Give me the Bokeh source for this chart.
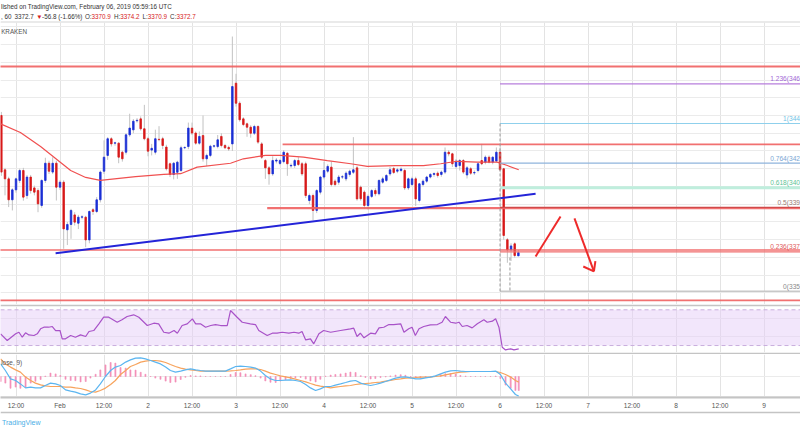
from bokeh.plotting import figure
from bokeh.layouts import column
from bokeh.models import Range1d, FixedTicker, Span
from bokeh.core.properties import value
from bokeh.embed import file_html
from bokeh.resources import INLINE

FONT = "Liberation Sans"
W = 800

# ---------------- data (hours from 1 Feb 2019 00:00 UTC, XBT/USD hourly) ----------------
hours = list(range(-16, 126))
opens = [3450.0, 3419.4, 3414.3, 3402.5, 3408.1, 3413.4, 3419.0, 3404.9, 3415.3, 3409.2,
         3407.7, 3399.3, 3413.4, 3423.1, 3418.1, 3423.1, 3409.6, 3412.4, 3385.6, 3388.6,
         3394.0, 3389.3, 3392.7, 3392.7, 3379.9, 3396.9, 3395.9, 3402.5, 3418.6, 3427.5,
         3436.9, 3434.4, 3434.4, 3429.3, 3429.3, 3439.1, 3441.9, 3447.0, 3448.1, 3442.5,
         3436.9, 3430.5, 3429.3, 3436.6, 3436.9, 3432.2, 3422.8, 3416.8, 3418.0, 3419.0,
         3431.8, 3432.5, 3442.9, 3440.1, 3434.4, 3438.7, 3425.6, 3427.5, 3432.7, 3432.5,
         3438.2, 3433.1, 3432.0, 3434.0, 3468.2, 3456.9, 3448.1, 3445.3, 3443.4, 3440.0,
         3443.8, 3434.0, 3424.6, 3420.5, 3417.1, 3424.3, 3423.0, 3424.0, 3428.7, 3421.6,
         3421.8, 3424.6, 3422.8, 3422.8, 3402.1, 3404.9, 3396.5, 3406.8, 3415.3, 3418.6,
         3420.9, 3413.0, 3412.4, 3415.3, 3414.3, 3416.8, 3418.0, 3420.5, 3409.6, 3406.8,
         3399.3, 3404.4, 3407.7, 3405.9, 3412.4, 3413.4, 3417.1, 3420.1, 3418.6, 3419.0,
         3419.0, 3409.2, 3411.1, 3414.3, 3402.1, 3411.1, 3413.0, 3415.3, 3416.8, 3417.5,
         3416.8, 3418.1, 3429.3, 3428.4, 3421.3, 3421.8, 3424.6, 3416.5, 3420.0, 3417.6,
         3419.0, 3424.6, 3423.7, 3426.5, 3423.7, 3424.3, 3429.3, 3420.0, 3380.0, 3374.3,
         3377.7, 3370.9]
highs = [3452.0, 3420.5, 3415.5, 3409.0, 3415.0, 3420.0, 3420.5, 3416.5, 3416.5, 3410.5,
         3409.0, 3414.0, 3426.2, 3424.5, 3426.5, 3424.5, 3413.5, 3413.5, 3390.0, 3397.4,
         3395.5, 3394.0, 3393.8, 3393.5, 3396.5, 3397.8, 3404.0, 3419.0, 3436.0, 3437.8,
         3437.8, 3435.2, 3435.0, 3430.2, 3440.0, 3451.0, 3448.0, 3448.5, 3449.5, 3456.0,
         3438.0, 3434.0, 3442.0, 3444.0, 3438.0, 3433.5, 3423.5, 3423.8, 3424.5, 3433.0,
         3432.6, 3446.0, 3446.0, 3441.0, 3441.0, 3450.0, 3428.5, 3433.5, 3433.5, 3439.0,
         3440.0, 3434.0, 3433.0, 3494.5, 3473.5, 3458.0, 3449.0, 3446.0, 3444.5, 3444.8,
         3444.5, 3435.0, 3425.5, 3421.5, 3427.0, 3426.0, 3425.5, 3430.5, 3429.5, 3423.0,
         3425.5, 3426.5, 3423.8, 3424.0, 3406.0, 3406.0, 3408.5, 3416.0, 3424.0, 3422.5,
         3424.0, 3414.0, 3416.5, 3416.5, 3418.5, 3419.5, 3437.8, 3421.5, 3410.5, 3407.8,
         3405.5, 3408.5, 3409.0, 3414.0, 3415.5, 3417.0, 3421.0, 3421.0, 3420.5, 3420.8,
         3420.0, 3415.0, 3415.5, 3415.5, 3412.0, 3414.0, 3416.0, 3417.5, 3418.0, 3418.5,
         3419.0, 3432.0, 3430.5, 3429.0, 3425.5, 3425.5, 3425.5, 3421.5, 3421.0, 3419.0,
         3423.5, 3434.0, 3427.5, 3427.5, 3427.0, 3432.0, 3432.0, 3420.5, 3381.0, 3378.0,
         3378.5, 3374.2]
lows = [3416.0, 3405.0, 3398.4, 3396.5, 3406.5, 3412.0, 3402.0, 3403.0, 3406.0, 3405.0,
        3395.5, 3398.0, 3412.0, 3417.0, 3417.0, 3402.1, 3408.0, 3374.9, 3377.0, 3380.5,
        3388.0, 3386.0, 3391.5, 3375.8, 3378.0, 3394.0, 3395.0, 3401.0, 3417.0, 3425.0,
        3432.5, 3433.0, 3423.1, 3424.0, 3428.0, 3438.0, 3440.0, 3446.0, 3441.5, 3436.0,
        3427.0, 3427.5, 3428.0, 3435.5, 3431.0, 3419.0, 3415.3, 3414.0, 3414.3, 3418.0,
        3431.0, 3431.0, 3439.0, 3433.5, 3433.5, 3424.0, 3421.5, 3426.5, 3431.8, 3431.5,
        3432.0, 3431.0, 3430.0, 3430.0, 3455.0, 3446.5, 3444.0, 3438.0, 3437.5, 3439.0,
        3434.0, 3425.5, 3414.3, 3411.0, 3416.0, 3423.0, 3422.0, 3423.0, 3416.0, 3420.5,
        3420.5, 3421.5, 3416.0, 3403.5, 3400.0, 3391.0, 3395.0, 3405.5, 3414.0, 3417.5,
        3410.0, 3410.0, 3411.0, 3414.2, 3413.0, 3415.5, 3417.0, 3402.0, 3402.0, 3397.4,
        3397.0, 3403.5, 3404.5, 3405.0, 3411.5, 3412.5, 3416.0, 3417.0, 3417.5, 3418.0,
        3408.0, 3408.0, 3410.0, 3399.0, 3401.0, 3410.0, 3412.0, 3414.5, 3415.5, 3415.0,
        3415.5, 3417.0, 3427.0, 3421.0, 3420.0, 3419.0, 3417.0, 3414.5, 3416.5, 3416.5,
        3418.0, 3422.0, 3422.5, 3423.0, 3422.5, 3423.5, 3418.5, 3380.0, 3367.0, 3368.0,
        3370.0, 3370.9]
closes = [3418.1, 3414.3, 3402.5, 3408.1, 3414.3, 3419.0, 3404.0, 3415.3, 3407.7, 3406.8,
          3400.2, 3413.4, 3423.1, 3418.6, 3423.1, 3409.6, 3412.4, 3386.1, 3388.6, 3396.5,
          3389.9, 3392.7, 3392.9, 3379.9, 3395.9, 3395.9, 3402.5, 3418.1, 3426.5, 3436.9,
          3434.0, 3434.6, 3426.5, 3425.6, 3439.1, 3442.9, 3446.8, 3447.3, 3442.5, 3436.9,
          3429.9, 3431.5, 3436.9, 3436.4, 3433.1, 3420.0, 3416.8, 3423.1, 3423.7, 3431.8,
          3432.0, 3442.9, 3440.1, 3434.4, 3438.2, 3425.6, 3427.5, 3432.7, 3432.9, 3436.3,
          3433.1, 3431.8, 3431.2, 3466.3, 3456.9, 3447.6, 3444.9, 3443.4, 3440.0, 3443.8,
          3435.0, 3426.5, 3420.5, 3417.1, 3424.6, 3424.9, 3424.6, 3429.3, 3422.8, 3421.9,
          3424.6, 3422.4, 3417.1, 3404.9, 3404.9, 3396.5, 3407.7, 3415.3, 3419.0, 3421.3,
          3411.1, 3411.1, 3415.3, 3415.5, 3417.5, 3418.6, 3419.4, 3403.0, 3403.1, 3399.3,
          3404.4, 3407.7, 3405.9, 3413.4, 3414.3, 3416.2, 3419.4, 3417.9, 3419.4, 3419.8,
          3409.2, 3414.3, 3414.3, 3403.0, 3411.5, 3413.0, 3415.3, 3416.8, 3417.3, 3416.2,
          3418.1, 3429.3, 3428.4, 3422.8, 3424.3, 3424.6, 3418.1, 3420.5, 3417.5, 3417.9,
          3422.8, 3422.8, 3426.5, 3423.7, 3426.5, 3429.3, 3419.4, 3382.4, 3374.3, 3376.5,
          3371.1, 3372.7]

ma_hours = [-16.2, -10.8, -5.3, -1.2, 2.9, 7.0, 11.0, 20.6, 28.3, 32.9, 37.4, 46.5, 50.0, 56.0,
            60.1, 66.4, 72.9, 79.3, 83.8, 91.5, 99.1, 103.8, 108.3, 113.8, 119.2, 122.0, 125.1]
ma_values = [3445.3, 3440.4, 3432.5, 3425.8, 3419.0, 3415.1, 3413.4, 3415.6, 3416.8, 3417.2,
             3420.9, 3423.1, 3425.6, 3427.5, 3427.5, 3426.5, 3424.6, 3422.8, 3421.3, 3421.8,
             3421.8, 3422.8, 3424.2, 3423.7, 3423.7, 3421.8, 3419.4]

rsi_hours = [-16.2, -14.4, -12.1, -11.2, -10.3, -9.4, -8.5, -7.1, -6.2, -5.3, -4.4, -3.1, -2.1,
             -1.2, 0.0, 0.6, 1.5, 2.9, 4.2, 5.6, 7.0, 7.9, 9.2, 10.6, 11.9, 13.3, 15.6, 16.9,
             18.3, 20.1, 21.5, 23.8, 25.6, 26.9, 28.3, 29.7, 31.1, 32.0, 33.3, 34.7, 36.1, 37.0,
             38.3, 39.7, 41.1, 42.4, 43.8, 45.6, 46.5, 48.3, 49.7, 51.9, 53.3, 54.2, 56.5, 57.9,
             59.2, 60.6, 62.4, 63.8, 65.1, 66.0, 67.0, 68.3, 69.2, 70.6, 71.9, 73.8, 76.5, 79.2,
             80.1, 81.0, 81.9, 82.9, 84.7, 86.0, 87.0, 88.3, 89.7, 91.0, 92.9, 93.8, 95.1, 96.0,
             96.9, 97.9, 99.2, 101.0, 102.9, 104.2, 105.1, 106.5, 107.9, 108.8, 109.7, 111.0,
             112.4, 113.8, 115.6, 116.5, 117.9, 118.8, 119.7, 120.6, 121.5, 122.9, 123.8, 125.1]
rsi_values = [43.1, 35.6, 43.1, 44.9, 39.3, 44.2, 41.9, 41.2, 43.1, 48.7, 50.5, 50.5, 51.3,
              46.8, 46.8, 37.5, 37.5, 41.2, 39.3, 41.9, 40.1, 45.7, 46.8, 54.3, 61.7, 61.7, 56.1,
              58.8, 62.5, 64.4, 61.7, 52.4, 55.0, 54.3, 44.9, 43.8, 46.8, 43.8, 52.4, 54.3, 59.9,
              54.3, 54.3, 50.5, 52.4, 53.5, 52.4, 52.4, 69.2, 61.7, 56.1, 54.3, 53.5, 46.8, 41.2,
              43.8, 43.8, 44.9, 43.8, 44.9, 43.8, 45.7, 36.3, 37.5, 31.9, 43.1, 46.8, 44.9, 46.8,
              48.7, 49.4, 40.1, 43.8, 38.6, 43.8, 43.1, 49.8, 50.5, 53.5, 53.5, 54.3, 44.9, 48.7,
              50.5, 41.2, 48.7, 51.3, 53.2, 53.5, 56.1, 62.5, 56.1, 55.0, 56.1, 51.3, 52.4, 49.8,
              54.3, 58.8, 56.1, 57.3, 59.9, 50.5, 28.1, 25.1, 26.3, 25.1, 26.3]

macd_hours = [-16.2, -14.9, -13.5, -12.1, -10.8, -9.4, -8.0, -6.7, -5.3, -4.0, -2.6, -1.2, 0.1,
              1.5, 2.9, 4.2, 5.6, 7.0, 8.3, 9.7, 11.0, 12.4, 13.8, 15.1, 16.5, 17.9, 19.2, 20.6,
              22.0, 23.3, 24.7, 26.0, 27.4, 28.8, 30.1, 31.5, 32.9, 34.2, 35.6, 37.0, 38.3, 39.7,
              41.0, 42.4, 43.8, 45.1, 46.5, 47.9, 49.2, 50.6, 52.0, 53.3, 54.7, 56.0, 57.4, 58.8,
              60.1, 61.5, 62.9, 64.2, 65.6, 67.0, 68.3, 69.7, 71.0, 72.4, 73.8, 75.1, 76.5, 77.9,
              79.2, 80.6, 82.0, 83.3, 84.7, 86.0, 87.4, 88.8, 90.1, 91.5, 92.9, 94.2, 95.6, 97.0,
              98.3, 99.7, 101.0, 102.4, 103.8, 105.1, 106.5, 107.9, 109.2, 110.6, 112.0, 113.3,
              114.7, 116.0, 117.4, 118.8, 120.1, 121.5, 122.9, 124.2, 125.1]
macd_line = [6.3, 3.0, -1.2, -2.0, -3.7, -5.7, -5.3, -5.7, -5.7, -4.5, -3.3, -3.7, -4.5, -6.7,
             -7.3, -7.8, -8.7, -9.2, -8.3, -6.7, -3.7, 0.0, 3.0, 4.7, 5.5, 7.2, 8.3, 9.2, 9.3, 8.8,
             8.0, 7.2, 6.3, 4.7, 3.0, 2.2, 2.7, 3.3, 3.8, 3.3, 3.0, 2.7, 2.7, 2.7, 2.7, 2.7, 3.8,
             5.0, 5.2, 5.0, 4.7, 4.2, 2.7, 0.5, -1.2, -2.0, -2.0, -1.8, -1.7, -2.0, -2.5, -4.0,
             -5.7, -7.0, -6.2, -5.0, -5.0, -4.3, -3.7, -3.0, -2.3, -2.0, -3.3, -4.0, -4.5, -4.0,
             -3.3, -2.5, -1.7, -0.8, -0.3, -0.2, -0.7, -1.2, -1.2, -0.7, -0.3, 0.3, 1.3, 2.2, 2.8,
             3.0, 2.7, 2.5, 2.5, 2.5, 2.5, 2.5, 2.5, 2.7, 1.0, -3.3, -6.2, -9.0, -9.8]
signal_line = [8.8, 6.3, 4.7, 3.3, 2.2, -0.3, -2.0, -3.3, -4.2, -4.7, -5.0, -5.0, -5.0, -5.3,
               -5.3, -5.7, -6.0, -6.7, -7.5, -7.8, -7.0, -5.8, -4.0, -2.0, 1.0, 3.0, 5.0, 6.0,
               7.2, 7.7, 8.0, 8.0, 7.7, 7.0, 6.0, 5.0, 4.2, 3.7, 3.3, 3.0, 2.7, 2.7, 2.7, 2.7,
               2.7, 2.7, 2.8, 3.0, 3.3, 3.7, 3.8, 3.8, 3.5, 2.7, 1.7, 1.0, 0.3, -0.2, -0.7, -1.3,
               -2.0, -2.7, -3.5, -4.3, -4.8, -5.2, -5.7, -5.3, -5.0, -4.7, -4.5, -4.0, -3.7, -3.5,
               -3.3, -3.0, -2.8, -2.3, -2.0, -1.5, -1.2, -0.8, -0.7, -0.5, -0.3, -0.3, -0.3, 0.0,
               0.3, 0.8, 1.3, 1.8, 2.2, 2.3, 2.5, 2.5, 2.5, 2.5, 2.5, 2.5, 2.0, 1.0, -0.3, -2.0,
               -2.8]

tick_hours = [-12, 0, 12, 24, 36, 48, 60, 72, 84, 96, 108, 120, 132, 144, 156, 168, 180, 192]
tick_labels = ["12:00", "Feb", "12:00", "2", "12:00", "3", "12:00", "4", "12:00", "5",
               "12:00", "6", "12:00", "7", "12:00", "8", "12:00", "9"]

# drawings (time in hours, price in USD)
hline_start = [-20.0, 60.7, 56.5, -20.0, -20.0]
hline_price = [3477.6, 3433.7, 3397.8, 3374.2, 3345.8]
trend_hours = [-1.2, 129.7]
trend_price = [3372.4, 3405.9]
fib_start = 120.0
fib_price = [3467.8, 3445.5, 3423.2, 3409.3, 3398.2, 3373.2, 3350.9]
fib_labels = ["1.236(346", "1(344", "0.764(342", "0.618(340", "0.5(339", "0.236(337", "0(335"]
arrow_hours = [[129.7, 136.5], [140.3, 145.6], [142.7, 145.6], [146.0, 145.6]]
arrow_price = [[3370.6, 3393.1], [3392.0, 3362.2], [3364.9, 3362.2], [3367.9, 3362.2]]

# ---------------- figures ----------------
xr = Range1d(-16.23, 201.94)
SEP = "#c4c4c4"


def make(height, yr, xrange=xr, axis=None, **kw):
    opts = dict(width=W, height=height, x_range=xrange, y_range=yr, output_backend="svg",
                toolbar_location=None, title=None, x_axis_location=axis, y_axis_location=None,
                min_border_left=0, min_border_right=0, min_border_top=0, min_border_bottom=0,
                outline_line_color=None, background_fill_color="white", border_fill_color="white")
    opts.update(kw)
    p = figure(**opts)
    p.xgrid.ticker = FixedTicker(ticks=tick_hours)
    p.xgrid.grid_line_color = "#e3e3e3"
    p.ygrid.grid_line_color = "#ebebeb"
    return p


# header (screen-pixel coordinates)
head = make(21, Range1d(0, 21), xrange=Range1d(0, W))
head.grid.visible = False
head.text(x=[0.5], y=[15], text=["lished on TradingView.com, February 06, 2019 05:59:16 UTC"],
          text_font=value(FONT), text_font_size="6.3px", text_color="#333",
          text_baseline="middle")
pieces = [", 60", "3372.7", "\u25bc", "-56.8 (-1.66%)", "O:", "3370.9", "H:", "3374.2",
          "L:", "3370.9", "C:", "3372.7"]
piece_x = [0.5, 14, 35.8, 41.6, 84.4, 91.1, 113.4, 119.7, 142, 147.3, 169.6, 175.9]
piece_col = ["#333", "#333", "#d62020", "#333", "#333", "#d62020", "#333", "#d62020",
             "#333", "#d62020", "#333", "#d62020"]
head.text(x=piece_x, y=[5.5] * len(pieces), text=pieces, text_font=value(FONT),
          text_font_size="6.3px", text_color=piece_col, text_baseline="middle")

# price pane
price = make(283, Range1d(3343.5, 3502.4), min_border_top=1, border_fill_color="#aaaaaa")
price.ygrid.ticker = FixedTicker(ticks=list(range(3350, 3501, 10)))

price.text(x=[-16.05], y=[3497.6], text=["KRAKEN"], text_font=value(FONT),
           text_font_size="6.3px", text_color="#555", text_baseline="middle")

up = [c >= o for o, c in zip(opens, closes)]
body_top = [max(o, c) for o, c in zip(opens, closes)]
body_bot = [min(o, c) for o, c in zip(opens, closes)]
cols = ["#1b2fd6" if u else "#d81a1a" for u in up]

price.segment(x0=hours, y0=lows, x1=hours, y1=highs, line_color="#c2c2c2", line_width=1)
price.vbar(x=hours, width=0.42, top=body_top, bottom=body_bot, fill_color=cols,
           line_color=cols, line_width=0.8)

price.line(ma_hours, ma_values, line_color="#f05050", line_width=1.2)

# horizontal support / resistance lines
price.segment(x0=hline_start, y0=hline_price, x1=[205] * len(hline_price), y1=hline_price,
              line_color="#f06060", line_width=[1.8, 1.8, 2.4, 1.6, 1.8], line_alpha=0.9)

price.line(trend_hours, trend_price, line_color="#2424d8", line_width=2)

# fibonacci retracement
fib_colors = ["#b77fdc", "#8fd0ec", "#8fb4dc", "#bfeedd", "#d04a4a", "#f07070", "#c8c8c8"]
fib_text_colors = ["#a268d6", "#6ec3e6", "#7aa6d4", "#5cc495", "#9a7a74", "#e05c5c", "#8a8a8a"]
fib_widths = [1.2, 1.2, 1.2, 3, 1.4, 1.2, 1.5]
price.segment(x0=[fib_start] * 7, y0=fib_price, x1=[205] * 7, y1=fib_price,
              line_color=fib_colors, line_width=fib_widths)
price.text(x=[201.8] * 7, y=[v + 0.8 for v in fib_price], text=fib_labels,
           text_font=value(FONT), text_font_size="6.6px", text_color=fib_text_colors,
           text_align="right", text_baseline="bottom")
price.segment(x0=[fib_start, 122.7], y0=[fib_price[1], 3370.0], x1=[fib_start, 122.7],
              y1=[fib_price[-1], fib_price[-1]], line_color="#9a9a9a", line_dash="3 2",
              line_width=1)

# hand-drawn arrows
price.multi_line(arrow_hours, arrow_price, line_color="#ee2a2a", line_width=2)

# RSI pane
rsi = make(50, Range1d(22.2, 73.7), min_border_top=2, min_border_bottom=2,
           border_fill_color=SEP)
rsi.ygrid.ticker = FixedTicker(ticks=[40, 60])
rsi.quad(left=[-30], right=[230], bottom=[30], top=[70], fill_color="#e6cdf8",
         fill_alpha=0.5, line_color=None)
for lvl in (70, 30):
    rsi.add_layout(Span(location=lvl, dimension="width", line_color="#c9aedd",
                        line_dash="4 3", line_width=1))
rsi.line(rsi_hours, rsi_values, line_color="#a852c8", line_width=1.2)

# MACD pane with time axis
macd = make(57, Range1d(-10.5, 11), axis="below")
macd.ygrid.ticker = FixedTicker(ticks=[-10, 0])
hist = [m - s for m, s in zip(macd_line, signal_line)]
macd.vbar(x=macd_hours, width=0.3, top=hist, bottom=0, fill_color="#f490b8",
          line_color="#f490b8", line_width=0.6)
macd.line(macd_hours, signal_line, line_color="#f7a35c", line_width=1.2)
macd.line(macd_hours, macd_line, line_color="#5bb5f0", line_width=1.2)
macd.text(x=[-16.05], y=[7.2], text=["lose, 9)"], text_font=value(FONT),
          text_font_size="6.4px", text_color="#555", text_baseline="middle")
ax = macd.xaxis[0]
ax.ticker = FixedTicker(ticks=tick_hours)
ax.major_label_overrides = {t: l for t, l in zip(tick_hours, tick_labels)}
ax.axis_line_color = SEP
ax.axis_line_width = 2
ax.major_tick_line_color = None
ax.minor_tick_line_color = None
ax.major_tick_out = 0
ax.major_tick_in = 0
ax.major_label_standoff = 4
ax.major_label_text_font = FONT
ax.major_label_text_font_size = "6.6px"
ax.major_label_text_color = "#555"

# footer
foot = make(19, Range1d(0, 17), xrange=Range1d(0, W), min_border_top=2,
            border_fill_color=SEP)
foot.grid.visible = False
foot.text(x=[1.5], y=[8.5], text=["TradingView"], text_font=value(FONT), text_font_size="7px",
          text_color="#4aaee6", text_baseline="middle")

layout = column(head, price, rsi, macd, foot, spacing=0)
open("out.html", "w").write(file_html(layout, INLINE))
